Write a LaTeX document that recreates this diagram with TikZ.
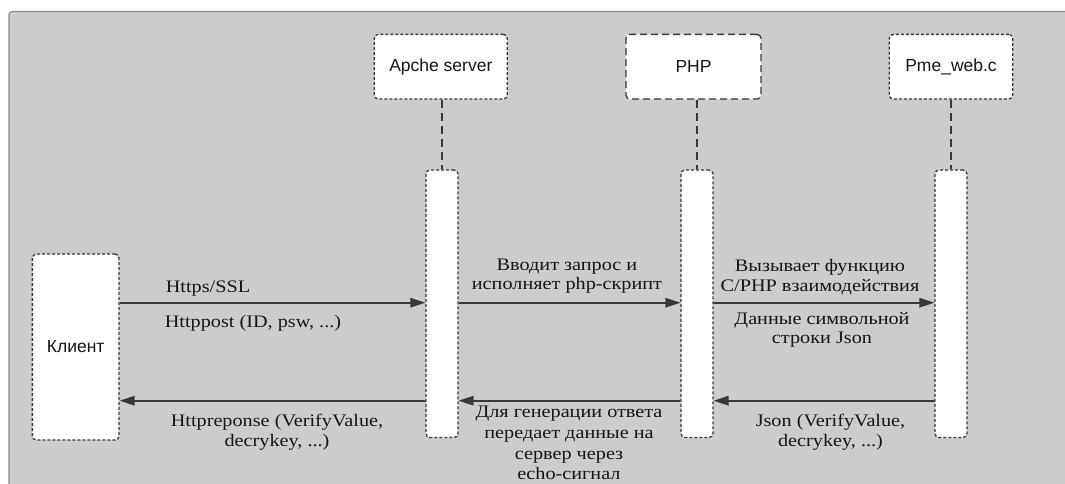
\documentclass[tikz,border=0pt]{standalone}
\usepackage{fontspec}
\setmainfont{Liberation Serif}[FakeStretch=1.15]
\newfontfamily\hdrfont{Liberation Sans}
\usetikzlibrary{arrows.meta}
\definecolor{bgfill}{HTML}{CCCCCC}
\definecolor{bgedge}{HTML}{8C8C8C}
\definecolor{ink}{HTML}{383838}
\definecolor{txt}{HTML}{161616}
\tikzset{
 hdrbox/.style={draw=ink, fill=white, line width=1.3pt, dash pattern=on 3pt off 2pt, rounded corners=4pt, font=\hdrfont\fontsize{17.5}{20}\selectfont, text=txt, inner sep=0pt},
 longdash/.style={dash pattern=on 7pt off 4pt},
 actbox/.style={draw=ink, fill=white, line width=1.3pt, dash pattern=on 3pt off 2pt, rounded corners=4pt, minimum width=32pt, minimum height=267.5pt, inner sep=0pt},
 lifeline/.style={draw=ink, line width=1.3pt, dash pattern=on 8pt off 5pt},
 msg/.style={draw=ink, line width=1.7pt, -{Triangle[length=15pt,width=9.5pt]}},
 lbl/.style={font=\fontsize{17.6}{19}\selectfont, text=txt, inner sep=0pt, align=center},
}
\begin{document}
\begin{tikzpicture}[x=1pt,y=-1pt]
\useasboundingbox (0,0) rectangle (1065,483);
\begin{scope}
\clip (0,0) rectangle (1065,483);
\draw[fill=bgfill, draw=bgedge, line width=1.2pt, rounded corners=3pt] (9,11.5) rectangle (1090,510);
\end{scope}

% headers
\node[hdrbox, minimum width=133pt, minimum height=64.7pt] (apH) at (440.8,66.7) {Apche server};
\node[hdrbox, longdash, minimum width=135pt, minimum height=64.7pt] (phH) at (693.5,66.7) {PHP};
\node[hdrbox, minimum width=123.5pt, minimum height=64.7pt] (pmH) at (951,66.7) {Pme\_web.c};

% activations
\node[actbox] (apA) at (442,303.75) {};
\node[actbox] (phA) at (697,303.75) {};
\node[actbox] (pmA) at (951,303.75) {};

% client
\node[hdrbox, minimum width=86.7pt, minimum height=186pt] (cl) at (75.7,347) {Клиент};

% lifelines
\draw[lifeline] (apA.north |- apH.south) -- (apA.north);
\draw[lifeline] (phA.north |- phH.south) -- (phA.north);
\draw[lifeline] (pmA.north |- pmH.south) -- (pmA.north);

% message rows
\coordinate (rowf) at (0,302.7);
\coordinate (rowb) at (0,400.7);

\draw[msg] (cl.east |- rowf) -- (apA.west |- rowf);
\draw[msg] (apA.east |- rowf) -- (phA.west |- rowf);
\draw[msg] (phA.east |- rowf) -- (pmA.west |- rowf);
\draw[msg] (pmA.west |- rowb) -- (phA.east |- rowb);
\draw[msg] (phA.west |- rowb) -- (apA.east |- rowb);
\draw[msg] (apA.west |- rowb) -- (cl.east |- rowb);

% labels
\node[lbl, anchor=base] (l1) at (208,292) {Https/SSL};
\node[lbl, anchor=base] (l2) at (253,327) {Httppost (ID, psw, ...)};
\node[lbl] (l3) at (567,276.6) {Вводит запрос и\\исполняет php-скрипт};
\node[lbl, font=\fontsize{17.6}{19.5}\selectfont] (l4) at (820,277.2) {Вызывает функцию\\C/PHP взаимодействия};
\node[lbl] (l5) at (822,329.7) {Данные символьной\\строки Json};
\node[lbl, font=\fontsize{17.6}{20}\selectfont] (l6) at (830.5,431.9) {Json (VerifyValue,\\decrykey, ...)};
\node[lbl, font=\fontsize{17.6}{20}\selectfont] (l7) at (277,431.9) {Httpreponse (VerifyValue,\\decrykey, ...)};
\node[lbl, font=\fontsize{17.6}{20.7}\selectfont] (l8) at (569,443.2) {Для генерации ответа\\передает данные на\\сервер через\\echo-сигнал};
\end{tikzpicture}
\end{document}
